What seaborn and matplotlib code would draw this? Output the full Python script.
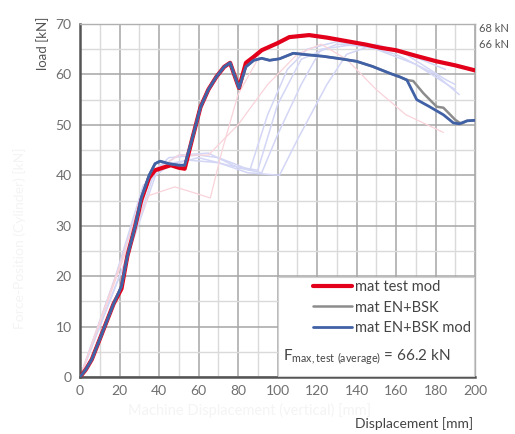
import numpy as np
import pandas as pd
import seaborn as sns
import matplotlib
matplotlib.use("Agg")
import matplotlib.pyplot as plt
from matplotlib.lines import Line2D
from matplotlib.patches import Rectangle

# ---------------- data ----------------
red_x = [0, 3, 6, 10, 13, 17, 21, 24, 28, 31, 35, 38, 42, 46, 50, 53, 57, 61, 65, 69, 73, 76, 80.5,
         84, 88, 92, 96, 100, 106, 116, 125, 135, 145, 152, 160, 170, 180.5, 190, 200]
red_y = [0, 1.5, 3.5, 7.5, 10.5, 14.5, 17.5, 24, 30, 35, 39.5, 41, 41.5, 42, 41.5, 41.3, 47.5, 53.5,
         57, 59.5, 61.5, 62.3, 57.3, 62.3, 63.5, 64.8, 65.5, 66.2, 67.4, 67.8, 67.3, 66.6, 65.9,
         65.3, 64.8, 63.7, 62.6, 61.8, 60.8]

blue_x = [0, 3, 6, 10, 13, 17, 21, 24, 28, 31, 35, 38, 40.5, 45, 50, 53, 57, 61, 65, 69, 73, 76, 80.5,
          84, 88, 92, 96, 101, 108, 115, 123, 132, 140, 148, 157, 162, 165.5, 170.5, 177, 184, 189,
          192, 196, 200]
blue_y = [0, 1.5, 3.5, 7.5, 10.5, 14.5, 18, 24, 30, 35.5, 40, 42.3, 42.8, 42.3, 42, 42, 47.5, 53.5,
          57, 59.5, 61.5, 62.3, 57.3, 61.5, 62.8, 63.2, 62.8, 63.1, 64.2, 63.9, 63.6, 63.1, 62.6,
          61.6, 60.2, 59.5, 58.9, 55, 53.6, 52, 50.4, 50.2, 50.8, 50.9]

gray_x = [0, 3, 6, 10, 13, 17, 21, 24, 28, 31, 35, 38, 40.5, 45, 50, 53, 57, 61, 65, 69, 73, 76, 80.5,
          84, 88, 92, 96, 101, 108, 115, 123, 132, 140, 148, 157, 162, 165.5, 168.7, 173.8, 180.6,
          184, 190, 193, 196, 200]
gray_y = [0, 1.5, 3.5, 7.5, 10.5, 14.5, 18, 24, 30, 35.5, 40, 42.3, 42.8, 42.3, 42, 42, 47.5, 53.5,
          57, 59.5, 61.5, 62.3, 57.3, 61.5, 62.8, 63.2, 62.8, 63.1, 64.2, 63.9, 63.6, 63.1, 62.6,
          61.6, 60.2, 59.5, 58.9, 58.7, 56.3, 53.6, 53.4, 51, 50.2, 50.8, 50.9]

# faint test curves (background)
test1_x = [0, 20, 35, 45, 60, 70, 80, 86, 95, 105, 115, 130, 150, 170, 190]
test1_y = [0, 22, 40, 43.5, 44, 43.5, 42, 41, 52, 61, 65, 66.5, 65, 62, 57]
test2_x = [0, 22, 38, 50, 65, 80, 92, 100, 112, 122, 140, 160, 180, 192]
test2_y = [0, 22, 41, 44, 44.4, 41.5, 40.5, 48, 58, 65, 66, 64, 60, 56]
test3_x = [0, 25, 40, 55, 70, 85, 101, 110, 125, 135, 150, 165, 185, 190]
test3_y = [0, 25, 42, 43, 42.5, 40.5, 40, 47, 58, 64, 66, 64, 59, 58]
test4_x = [0, 18, 32, 45, 60, 75, 90, 100, 112, 130, 160, 185]
test4_y = [0, 20, 38, 42, 43.5, 42, 41, 54, 63, 66, 65, 61]
pink1_x = [0, 15, 28, 35, 48, 58, 66, 72, 80, 90]
pink1_y = [0, 16, 30, 36, 37.7, 36.5, 35.5, 45, 56, 63]
pink2_x = [0, 20, 35, 50, 65, 80, 95, 110, 122, 135, 150, 165, 184]
pink2_y = [0, 22, 40, 44, 44, 50, 58, 64, 66, 63, 57, 52, 48.5]

labels = ["mat test mod", "mat EN+BSK", "mat EN+BSK mod"]
x_ticks = [0, 20, 40, 60, 80, 100, 120, 140, 160, 180, 200]
y_ticks = [0, 10, 20, 30, 40, 50, 60, 70]

# ---------------- style ----------------
sns.set_theme(style="white")
plt.rcParams["font.family"] = ["Lato", "DejaVu Sans"]

fig = plt.figure(figsize=(5.15, 4.34), dpi=100)
ax = fig.add_axes([80 / 515, 1 - 377 / 434, 395 / 515, 353 / 434])

faint_blue = "#d3d6f5"
faint_pink = "#f9d3da"
for tx, ty in [(test1_x, test1_y), (test2_x, test2_y), (test3_x, test3_y), (test4_x, test4_y)]:
    sns.lineplot(x=tx, y=ty, ax=ax, color=faint_blue, lw=1.1, sort=False, estimator=None, zorder=2)
for tx, ty in [(pink1_x, pink1_y), (pink2_x, pink2_y)]:
    sns.lineplot(x=tx, y=ty, ax=ax, color=faint_pink, lw=0.9, sort=False, estimator=None, zorder=2)

red_c = "#e3001b"
gray_c = "#8c8c8c"
blue_c = "#4161a6"
sns.lineplot(x=red_x, y=red_y, ax=ax, color=red_c, lw=3.0, sort=False, estimator=None, zorder=4)
sns.lineplot(x=gray_x, y=gray_y, ax=ax, color=gray_c, lw=1.8, sort=False, estimator=None, zorder=5)
sns.lineplot(x=blue_x, y=blue_y, ax=ax, color=blue_c, lw=2.0, sort=False, estimator=None, zorder=6)

ax.set_xlim(0, 200)
ax.set_ylim(0, 70)
ax.set_xticks(x_ticks)
ax.set_yticks(y_ticks)
ax.set_xticks(np.arange(10, 200, 20), minor=True)
ax.set_yticks(np.arange(5, 70, 10), minor=True)
ax.grid(True, which="major", color="#a6a6a6", lw=1.1, zorder=0)
ax.grid(True, which="minor", color="#dadada", lw=1.0, zorder=0)
ax.set_axisbelow(True)
ax.tick_params(axis="both", which="both", length=0, labelsize=10, labelcolor="#6f6f6f", pad=6)
for s in ["left", "bottom"]:
    ax.spines[s].set_color("#555555")
    ax.spines[s].set_linewidth(1.8)
for s in ["top", "right"]:
    ax.spines[s].set_color("#b0b0b0")
    ax.spines[s].set_linewidth(1.0)
ax.set_xlabel("")
ax.set_ylabel("")

# ghost labels (very faint)
fig.text(20 / 515, 0.45, "Force-Position (Cylinder) [kN]", rotation=90, color="#f4f4f4",
         fontsize=10, ha="center", va="center")
fig.text(250 / 515, 1 - 410 / 434, "Machine Displacement (vertical) [mm]", color="#f4f4f4",
         fontsize=10.5, ha="center", va="center")

# real labels
fig.text(43 / 515, 1 - 43 / 434, "load [kN]", rotation=90, color="#555555", fontsize=9.5,
         ha="center", va="center")
fig.text(473 / 515, 1 - 424 / 434, "Displacement [mm]", color="#444444", fontsize=10,
         ha="right", va="center")
fig.text(479 / 515, 1 - 28 / 434, "68 kN", color="#555555", fontsize=8, ha="left", va="center")
fig.text(479 / 515, 1 - 45 / 434, "66 kN", color="#555555", fontsize=8, ha="left", va="center")

# legend box
bx0 = (278 - 80) / 395
by0 = 0.0
ax.add_patch(Rectangle((bx0, by0 + 0.004), 1 - bx0 - 0.003, (377 - 278) / 353, transform=ax.transAxes,
                       facecolor="white", edgecolor="#d0d0d0", lw=0.8, zorder=8))
handles = [Line2D([], [], color=red_c, lw=3.0),
           Line2D([], [], color=gray_c, lw=1.8),
           Line2D([], [], color=blue_c, lw=2.0)]
leg = ax.legend(handles, labels, loc="upper left", bbox_to_anchor=((313 - 80) / 395, (377 - 280) / 353),
                frameon=False, fontsize=10.5, handlelength=2.7, handletextpad=0.15,
                labelspacing=0.45, borderpad=0, borderaxespad=0)
leg.set_zorder(9)
for t in leg.get_texts():
    t.set_color("#444444")
ax.text((283 - 80) / 395, (377 - 357) / 353,
        r"F$_{\mathregular{max,test\ (average)}}$ = 66.2 kN", transform=ax.transAxes,
        fontsize=11, color="#444444", ha="left", va="center", zorder=10)

fig.savefig("out.png", dpi=100)
